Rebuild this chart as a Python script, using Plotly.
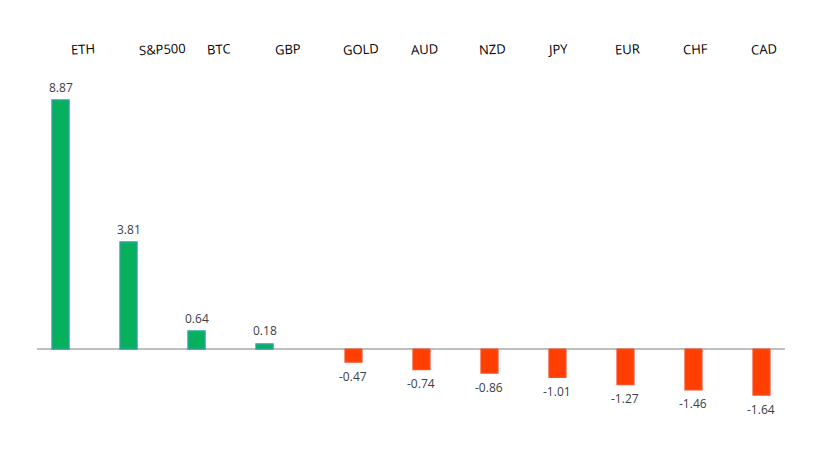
import plotly.graph_objects as go

categories = ["ETH", "S&P500", "BTC", "GBP", "GOLD", "AUD", "NZD", "JPY", "EUR", "CHF", "CAD"]
values = [8.87, 3.81, 0.64, 0.18, -0.47, -0.74, -0.86, -1.01, -1.27, -1.46, -1.64]

pos_vals = [v if v > 0 else None for v in values]
neg_vals = [v if v < 0 else None for v in values]

BAR_W = 0.25
POS_OFF = -0.154  # centre offset of positive series within category
NEG_OFF = 0.154

fig = go.Figure()
fig.add_trace(go.Bar(
    x=categories, y=pos_vals, width=BAR_W, offset=POS_OFF - BAR_W / 2,
    marker=dict(color="#06B05C", line=dict(color="#27A596", width=1.4)),
    hoverinfo="x+y", showlegend=False,
))
fig.add_trace(go.Bar(
    x=categories, y=neg_vals, width=BAR_W, offset=NEG_OFF - BAR_W / 2,
    marker=dict(color="#FF3E00", line=dict(color="#F4522A", width=1.2)),
    hoverinfo="x+y", showlegend=False,
))

annotations = []
for i, (c, v) in enumerate(zip(categories, values)):
    off = POS_OFF if v > 0 else NEG_OFF
    annotations.append(dict(
        x=i + off, y=v, xref="x", yref="y", text=f"{v:.2f}", showarrow=False,
        yshift=13 if v > 0 else -14, xanchor="center", yanchor="middle",
        font=dict(family="Open Sans", size=12, color="#404040"),
    ))
    annotations.append(dict(
        x=i, y=1, xref="x", yref="paper", text=c, showarrow=False,
        xshift=-3, yshift=31, xanchor="left", yanchor="middle", textangle=-3,
        font=dict(family="Open Sans", size=13, color="#000000"),
    ))

fig.update_layout(
    width=838, height=476,
    margin=dict(l=37, r=53, t=80, b=46),
    paper_bgcolor="white", plot_bgcolor="white",
    barmode="overlay",
    xaxis=dict(showticklabels=False, showgrid=False, zeroline=False, showline=False,
               ticks="", range=[-0.5, len(categories) - 0.5]),
    yaxis=dict(range=[-2.886, 9.583], showticklabels=False, showgrid=False,
               zeroline=True, zerolinecolor="#BFBFBF", zerolinewidth=1.6, showline=False),
    annotations=annotations,
)

fig.write_html("out.html")
